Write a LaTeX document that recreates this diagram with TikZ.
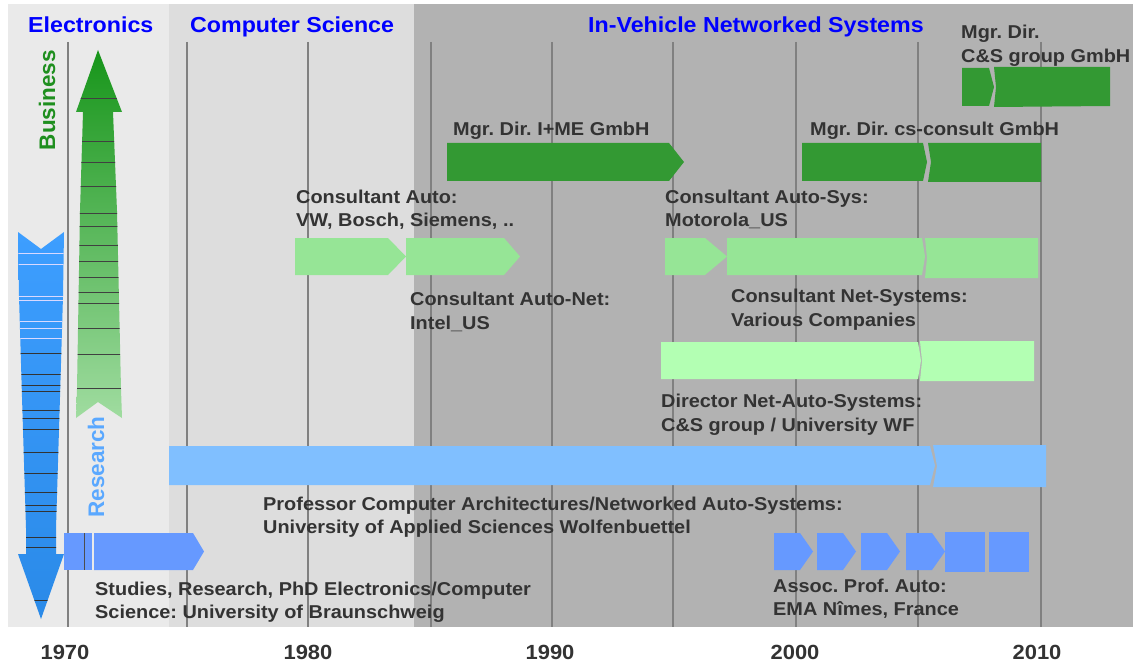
\documentclass[tikz,border=0pt]{standalone}
\usepackage{fontspec}
\setmainfont{Liberation Sans}[FakeStretch=1.07]
\newfontfamily\plainsans{Liberation Sans}
\definecolor{bgA}{HTML}{EAEAEA}
\definecolor{bgB}{HTML}{DDDDDD}
\definecolor{bgC}{HTML}{B2B2B2}
\definecolor{gridgray}{HTML}{808080}
\definecolor{txt}{HTML}{333333}
\definecolor{hdrblue}{HTML}{0000FF}
\definecolor{dkgreen}{HTML}{339933}
\definecolor{ltgreen}{HTML}{96E596}
\definecolor{palegreen}{HTML}{B3FFB3}
\definecolor{bluebar}{HTML}{6699FF}
\definecolor{ltblue}{HTML}{80BFFF}
\definecolor{busgreen}{HTML}{1F8F1F}
\definecolor{resblue}{HTML}{5AA8FF}
\definecolor{arrBlueTop}{HTML}{3D9EFF}
\definecolor{arrBlueBot}{HTML}{2A8AE8}
\definecolor{arrGreenTop}{HTML}{17951A}
\definecolor{arrGreenBot}{HTML}{A0DCA0}
\begin{document}
\frenchspacing
\begin{tikzpicture}[x=1pt,y=-1pt,
  lbl/.style={anchor=base west, inner sep=0pt, text=txt, font=\fontsize{18.6}{23}\selectfont\bfseries},
  hdr/.style={anchor=base west, inner sep=0pt, text=hdrblue, font=\fontsize{21.7}{26}\selectfont\bfseries},
  yr/.style={anchor=base, inner sep=0pt, text=txt, font=\fontsize{20.5}{25}\selectfont\bfseries},
  vlbl/.style={rotate=90, inner sep=0pt, font=\plainsans\fontsize{22.5}{26}\selectfont\bfseries},
  gridline/.style={draw=gridgray, line width=1.5pt},
  slice/.style={line width=0.6pt}]
\useasboundingbox (0,0) rectangle (1134,663);
\fill[white] (0,0) rectangle (1134,663);
% backgrounds
\fill[bgA] (8,4) rectangle (169,627);
\fill[bgB] (169,4) rectangle (414,627);
\fill[bgC] (414,4) rectangle (1133,627);
% grid lines
\foreach \gx in {68,187,308,431,552,673,796,918,1041}
  \draw[gridline] (\gx,42) -- (\gx,627);
% headers
\node[hdr] (hE) at (28,33) {Electronics};
\node[hdr] (hCS) at (190,33) {Computer Science};
\node[hdr] (hIV) at (588,33) {In-Vehicle Networked Systems};
% blue down arrow
\shade[top color=arrBlueTop, bottom color=arrBlueBot]
  (18,232) -- (41,249) -- (64,232) -- (63,296) -- (60,397) -- (56,528) -- (56,554) -- (64,554) -- (41,619) -- (18,554) -- (26,554) -- (26,528) -- (22,397) -- (19,296) -- cycle;
\begin{scope}
  \clip (18,232) -- (41,249) -- (64,232) -- (63,296) -- (60,397) -- (56,528) -- (56,554) -- (64,554) -- (41,619) -- (18,554) -- (26,554) -- (26,528) -- (22,397) -- (19,296) -- cycle;
  \foreach \sy in {253,264,296,300,321,328,338}
    \draw[slice, white!85!blue] (10,\sy) -- (70,\sy);
  \foreach \sy in {353,374,385,391,410,418,429,452,473,492,505,511,537,547,600}
    \draw[slice, black!80] (10,\sy) -- (70,\sy);
\end{scope}
% green up arrow
\shade[top color=arrGreenTop, bottom color=arrGreenBot]
  (98,50) -- (122,112) -- (113,112) -- (117,211) -- (121,389) -- (122,418) -- (98,402) -- (76,418) -- (77,389) -- (80,211) -- (83,112) -- (76,112) -- cycle;
\begin{scope}
  \clip (98,50) -- (122,112) -- (113,112) -- (117,211) -- (121,389) -- (122,418) -- (98,402) -- (76,418) -- (77,389) -- (80,211) -- (83,112) -- (76,112) -- cycle;
  \foreach \sy in {98,141,162,186,213,226,245,261,277,292,303,328,354,388}
    \draw[slice, black!75] (70,\sy) -- (130,\sy);
\end{scope}
\node[vlbl, text=busgreen] (bus) at (47,100) {Business};
\node[vlbl, text=resblue] (res) at (96,467) {Research};
% Studies bar
\fill[bluebar] (64,533) rectangle (92,570);
\draw[gridgray!60!black, line width=0.6pt] (84,533) -- (84,570);
\fill[bluebar] (94,533) -- (193,533) -- (204,551.5) -- (193,570) -- (94,570) -- cycle;
% Professor bar
\fill[ltblue] (169,446) -- (930,446) -- (935,465.5) -- (930,485) -- (169,485) -- cycle;
\fill[ltblue] (933,445) -- (1046,445) -- (1046,487) -- (933,487) -- (937,466) -- cycle;
% Consultant Auto
\fill[ltgreen] (295,238) -- (388,238) -- (406,256.5) -- (388,275) -- (295,275) -- cycle;
\fill[ltgreen] (406,238) -- (504,238) -- (520,256.5) -- (504,275) -- (406,275) -- cycle;
% Consultant Auto-Sys / Net-Systems
\fill[ltgreen] (665,238) -- (705,238) -- (727,256.5) -- (705,275) -- (665,275) -- cycle;
\fill[ltgreen] (727,238) -- (922,238) -- (925,256.5) -- (922,275) -- (727,275) -- cycle;
\fill[ltgreen] (925,238) -- (1038,238) -- (1038,278) -- (925,278) -- (927,258) -- cycle;
% Director
\fill[palegreen] (661,342) -- (918,342) -- (921,360.5) -- (918,379) -- (661,379) -- cycle;
\fill[palegreen] (920,341) -- (1034,341) -- (1034,381) -- (920,381) -- (922,361) -- cycle;
% Mgr Dir I+ME
\fill[dkgreen] (447,143) -- (669,143) -- (684,162) -- (669,181) -- (447,181) -- cycle;
% Mgr Dir cs-consult
\fill[dkgreen] (802,143) -- (923,143) -- (927,162) -- (923,181) -- (802,181) -- cycle;
\fill[dkgreen] (928,143) -- (1041,143) -- (1041,182) -- (928,182) -- (931,162) -- cycle;
% Mgr Dir C&S group
\fill[dkgreen] (962,68) -- (989,68) -- (994,87) -- (989,106) -- (962,106) -- cycle;
\fill[dkgreen] (994,67) -- (1110,67) -- (1110,106) -- (994,107) -- (996,87) -- cycle;
% Assoc Prof
\foreach \sx in {774,817,861,906}
  \fill[bluebar] (\sx,533) -- (\sx+26,533) -- (\sx+39,551.5) -- (\sx+26,570) -- (\sx,570) -- cycle;
\fill[bluebar] (945,532) rectangle (985,572);
\fill[bluebar] (989,532) rectangle (1029,572);
% labels
\node[lbl] (cs1) at (961,39) {Mgr. Dir.};
\node[lbl] (cs2) at (961,63) {C\&S group GmbH};
\node[lbl] (ime) at (453,136) {Mgr. Dir. I+ME GmbH};
\node[lbl] (csc) at (810,136) {Mgr. Dir. cs-consult GmbH};
\node[lbl] (ca1) at (296,203) {Consultant Auto:};
\node[lbl] (ca2) at (296,226) {VW, Bosch, Siemens, ..};
\node[lbl] (cas1) at (665,203) {Consultant Auto-Sys:};
\node[lbl] (cas2) at (665,226) {Motorola\_US};
\node[lbl] (can1) at (410,305) {Consultant Auto-Net:};
\node[lbl] (can2) at (410,329) {Intel\_US};
\node[lbl] (cns1) at (731,302) {Consultant Net-Systems:};
\node[lbl] (cns2) at (731,326) {Various Companies};
\node[lbl] (dir1) at (661,407) {Director Net-Auto-Systems:};
\node[lbl] (dir2) at (661,431) {C\&S group / University WF};
\node[lbl] (pr1) at (263,510) {Professor Computer Architectures/Networked Auto-Systems:};
\node[lbl] (pr2) at (263,533) {University of Applied Sciences Wolfenbuettel};
\node[lbl] (st1) at (95,595) {Studies, Research, PhD Electronics/Computer};
\node[lbl] (st2) at (95,618) {Science: University of Braunschweig};
\node[lbl] (as1) at (773,592) {Assoc. Prof. Auto:};
\node[lbl] (as2) at (773,615) {EMA Nîmes, France};
% years
\node[yr] (y1970) at (65,659) {1970};
\node[yr] (y1980) at (308,659) {1980};
\node[yr] (y1990) at (550,659) {1990};
\node[yr] (y2000) at (795,659) {2000};
\node[yr] (y2010) at (1037,659) {2010};
\end{tikzpicture}
\end{document}
